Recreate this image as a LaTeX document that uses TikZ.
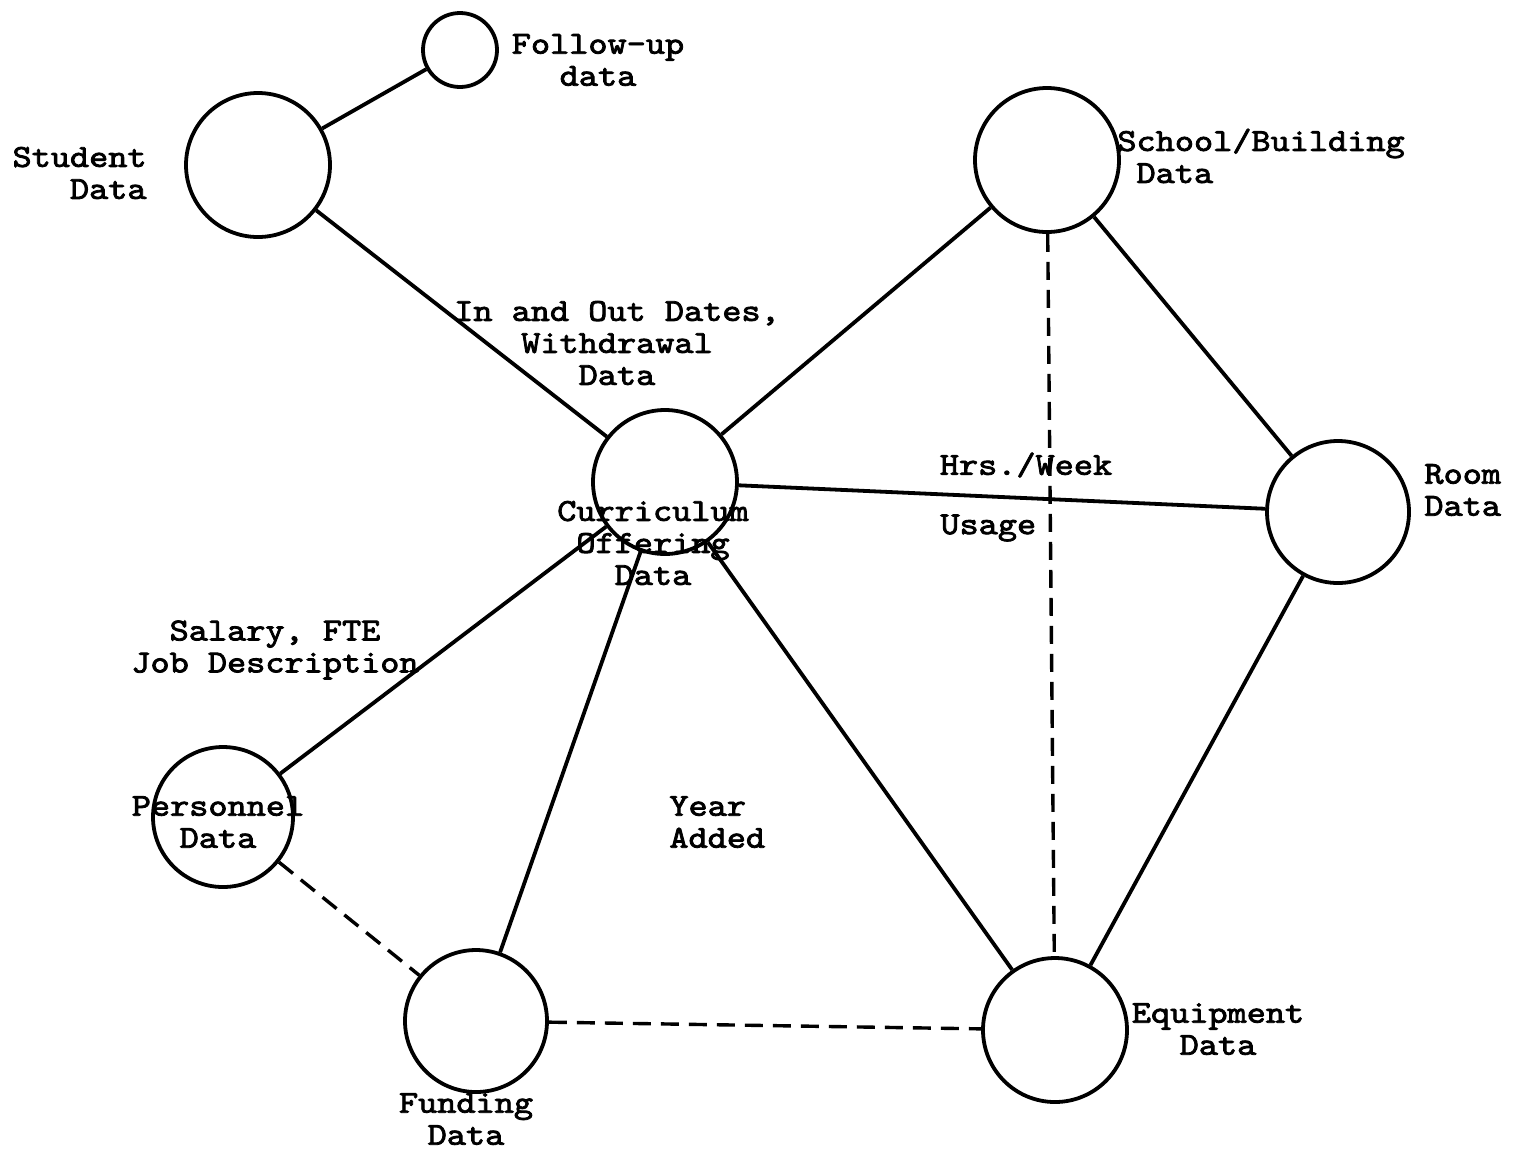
\documentclass[tikz,border=0pt]{standalone}
\usepackage{fontspec}
\newfontfamily\tw{lmmono10-regular}[Extension=.otf,FakeStretch=1.14,FakeBold=2.5]
\begin{document}
\begin{tikzpicture}[x=0.5pt,y=-0.5pt,
  ent/.style={circle,draw,line width=1.9pt,inner sep=0pt,minimum size=#1},
  lbl/.style={font=\tw\fontsize{16}{16}\selectfont,inner sep=0pt,align=center},
  link/.style={line width=1.9pt},
  dlink/.style={line width=1.7pt,dash pattern=on 9pt off 5pt}]
\useasboundingbox (0,0) rectangle (1519,1153);
% entities
\node[ent=37pt] (fu) at (460,50) {};
\node[ent=72pt] (st) at (258,165) {};
\node[ent=72pt] (sb) at (1047,160) {};
\node[ent=72pt] (cu) at (665,482) {};
\node[ent=71pt] (rm) at (1338,512) {};
\node[ent=70pt] (pe) at (223,817) {};
\node[ent=71pt] (fd) at (476,1021) {};
\node[ent=72pt] (eq) at (1055,1030) {};
% connectors
\draw[link] (fu) -- (st);
\draw[link] (st) -- (cu);
\draw[link] (cu) -- (sb);
\draw[link] (sb) -- (rm);
\draw[link] (cu) -- (rm);
\draw[link] (rm) -- (eq);
\draw[link] (cu) -- (eq);
\draw[link] (cu) -- (fd);
\draw[link] (cu) -- (pe);
\draw[dlink] (sb) -- (eq);
\draw[dlink] (pe) -- (fd);
\draw[dlink] (fd) -- (eq);
% labels
\node[lbl] (tfu) at (598,60) {Follow-up\\data};
\node[lbl,align=right,anchor=east] (tst) at (147,173) {Student\\Data};
\node[lbl,align=left,anchor=west] (tsb) at (1117,156) {School/Building\\\phantom{S}Data};
\node[lbl] (tio) at (617,343) {In and Out Dates,\\Withdrawal\\Data};
\node[lbl] (thw) at (1026,465) {Hrs./Week};
\node[lbl,anchor=west] (tus) at (940,528) {Usage};
\node[lbl,align=left,anchor=west] (trm) at (1424,490) {Room\\Data};
\node[lbl] (tcu) at (653,543) {Curriculum\\Offering\\Data};
\node[lbl] (tsa) at (275,650) {Salary, FTE\\Job Description};
\node[lbl] (tpe) at (218,822) {Personnel\\Data};
\node[lbl,align=left,anchor=west] (tya) at (669,822) {Year\\Added};
\node[lbl] (tfd) at (466,1119) {Funding\\Data};
\node[lbl] (teq) at (1218,1029) {Equipment\\Data};
\end{tikzpicture}
\end{document}
